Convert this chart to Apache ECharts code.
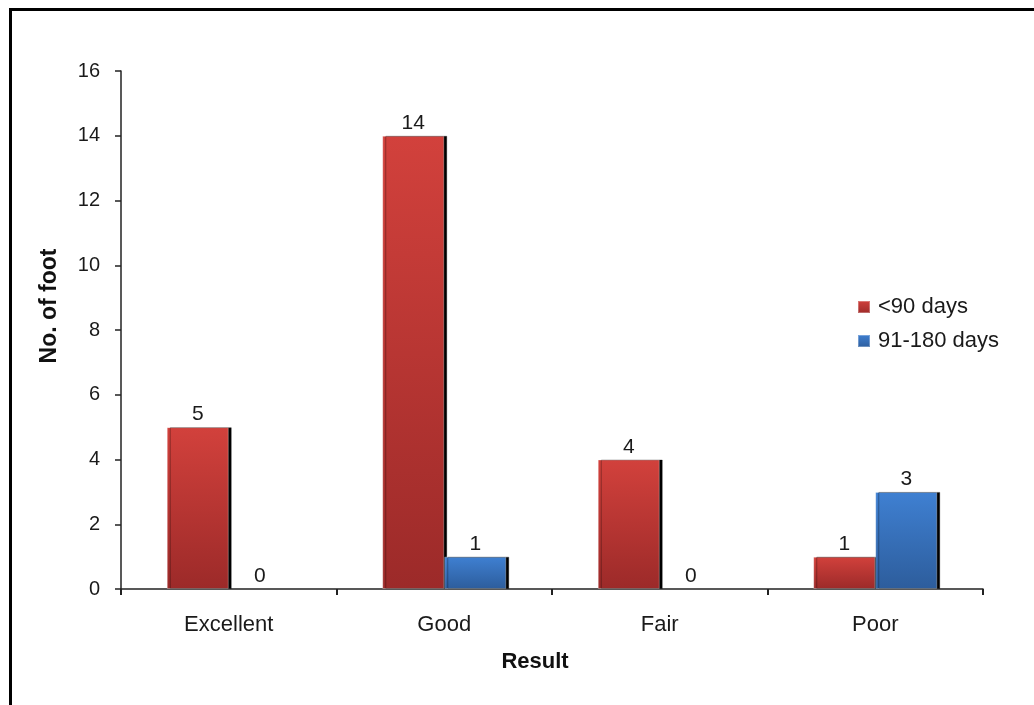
<!DOCTYPE html>
<html>
<head>
<meta charset="utf-8">
<style>
  html, body { margin: 0; padding: 0; background: #fff; }
  #chart { width: 1034px; height: 705px; }
</style>
<script src="https://cdn.jsdelivr.net/npm/echarts@6/dist/echarts.min.js"></script>
</head>
<body>
<div id="chart"></div>
<script>
// Outcome categories and foot counts per healing period
const categories = ['Excellent', 'Good', 'Fair', 'Poor'];
const under90 = [5, 14, 4, 1];
const days91to180 = [0, 1, 0, 3];
const seriesNames = ['<90 days', '91-180 days'];
const yTicks = { min: 0, max: 16, interval: 2 };

const FONT = '"Liberation Sans", Arial, sans-serif';

function grad(top, bottom) {
  return new echarts.graphic.LinearGradient(0, 0, 0, 1, [
    { offset: 0, color: top },
    { offset: 1, color: bottom }
  ]);
}

// Zero-height bars get no outline or drop shadow, only their value label
function toItems(values) {
  return values.map(v => v === 0
    ? { value: v, itemStyle: { borderWidth: 0, shadowColor: 'transparent' } }
    : v);
}

function barSeries(name, data, top, bottom) {
  return {
    name: name,
    type: 'bar',
    data: toItems(data),
    barWidth: 62,
    barGap: '0%',
    itemStyle: {
      color: grad(top, bottom),
      borderColor: 'rgba(255,255,255,0.3)',
      borderWidth: 1,
      shadowColor: '#000',
      shadowBlur: 0,
      shadowOffsetX: 3,
      shadowOffsetY: 0
    },
    label: {
      show: true,
      position: 'top',
      distance: 2,
      color: '#1a1a1a',
      fontFamily: FONT,
      fontSize: 21
    }
  };
}

const chart = echarts.init(document.getElementById('chart'), null, { renderer: 'canvas' });

chart.setOption({
  animation: false,
  backgroundColor: '#fff',
  graphic: [{
    type: 'rect',
    shape: { x: 10.5, y: 9.5, width: 1200, height: 900 },
    style: { fill: 'none', stroke: '#000', lineWidth: 3 },
    silent: true
  }],
  grid: { left: 121, top: 71, right: 51, bottom: 116, containLabel: false },
  legend: {
    orient: 'vertical',
    left: 857,
    top: 296,
    padding: 0,
    itemWidth: 12,
    itemHeight: 12,
    itemGap: 12,
    icon: 'rect',
    textStyle: { fontFamily: FONT, fontSize: 22, color: '#1a1a1a', padding: [0, 0, 0, 3] },
    data: seriesNames
  },
  xAxis: {
    type: 'category',
    data: categories,
    name: 'Result',
    nameLocation: 'middle',
    nameGap: 62,
    nameTextStyle: { fontFamily: FONT, fontSize: 22, fontWeight: 'bold', color: '#111', padding: [0, 34, 0, 0] },
    axisLine: { lineStyle: { color: '#222', width: 1.5 } },
    axisTick: { show: true, alignWithLabel: false, length: 6, inside: false, lineStyle: { color: '#222', width: 2 } },
    axisLabel: { fontFamily: FONT, fontSize: 22, color: '#1a1a1a', margin: 25 }
  },
  yAxis: {
    type: 'value',
    min: yTicks.min,
    max: yTicks.max,
    interval: yTicks.interval,
    name: 'No. of foot',
    nameLocation: 'middle',
    nameGap: 60,
    nameTextStyle: { fontFamily: FONT, fontSize: 23, fontWeight: 'bold', color: '#111', padding: [0, 0, 0, 48] },
    splitLine: { show: false },
    axisLine: { show: true, lineStyle: { color: '#222', width: 1.5 } },
    axisTick: { show: true, length: 6, lineStyle: { color: '#222', width: 1.5 } },
    axisLabel: { fontFamily: FONT, fontSize: 20, color: '#1a1a1a', margin: 21 }
  },
  series: [
    barSeries(seriesNames[0], under90, '#d2413c', '#9c2a29'),
    barSeries(seriesNames[1], days91to180, '#3f80d2', '#2d5d9c')
  ]
});
</script>
</body>
</html>
